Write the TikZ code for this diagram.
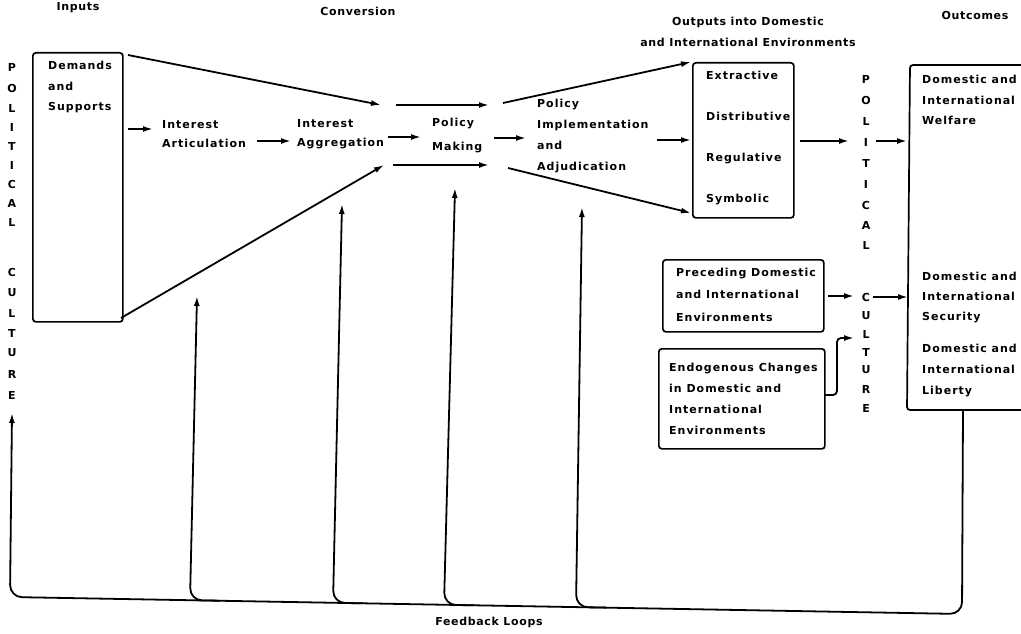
\documentclass[tikz,border=0pt]{standalone}
\usepackage{fontspec}
\newfontfamily\lf[LetterSpace=9]{DejaVu Sans}
\newfontfamily\hf[LetterSpace=6]{DejaVu Sans}
\usetikzlibrary{arrows.meta}
\newcommand\txtf[1]{\lf\bfseries\fontsize{11}{#1}\selectfont}
\tikzset{
  lbl/.style={inner sep=0pt, font=\txtf{#1}, align=left, anchor=west},
  lbl/.default=21,
  hd/.style={inner sep=0pt, font=\hf\bfseries\fontsize{11}{21}\selectfont, align=center},
  lt/.style={inner sep=0pt, font=\txtf{12}},
  box/.style={draw, rounded corners=3pt, line width=1.7pt, anchor=north west},
  ln/.style={line width=1.7pt},
  arr/.style={line width=1.8pt, -{Latex[length=10pt,width=6pt]}},
}
\begin{document}
\begin{tikzpicture}[x=1pt,y=-1pt]
\useasboundingbox (0,0) rectangle (1021,634);

% headings
\node[hd] (hin) at (78,8) {Inputs};
\node[hd] (hconv) at (358,11) {Conversion};
\node[hd] (hout) at (748,31.5) {Outputs into Domestic\\and International Environments};
\node[hd] (hoc) at (975,15) {Outcomes};

% left political culture
\foreach \c/\y [count=\i] in {P/67,O/88,L/108,I/127,T/146,I/165,C/184,A/203,L/222,C/272,U/293,L/313,T/333,U/353,R/374,E/395}
  \node[lt] (lp\i) at (12,\y) {\c};
% right political culture
\foreach \c/\y [count=\i] in {P/79,O/100,L/121,I/142,T/163,I/184,C/205,A/225,L/245,C/297,U/316,L/334,T/352,U/370,R/389,E/408}
  \node[lt] (rp\i) at (866,\y) {\c};

% demands box
\node[box, minimum width=90, minimum height=269] (dem) at (32,52) {};
\node[lbl=20.5] (demt) at (48,87) {Demands\\and\\Supports};

\node[lbl=19] (art) at (162,134) {Interest\\Articulation};
\node[lbl=19] (agg) at (297,134) {Interest\\Aggregation};
\node[lbl=24] (pm) at (432,136) {Policy\\Making};
\node[lbl=21.3] (pia) at (537,136) {Policy\\Implementation\\and\\Adjudication};

% outputs box
\node[box, minimum width=101, minimum height=155] (outb) at (692,62) {};
\node[lbl=41] (outt) at (706,138.5) {Extractive\\Distributive\\Regulative\\Symbolic};

% outcomes box (open to the right)
\coordinate (ocTR) at (1040,65);
\coordinate (ocTL) at (910,65);
\coordinate (ocBL) at (907,410);
\coordinate (ocBR) at (1040,410);
\draw[ln, rounded corners=3pt] (ocTR) -- (ocTL) -- (ocBL) -- (ocBR);
\node[lbl=20.5] (wel) at (922,100) {Domestic and\\International\\Welfare};
\node[lbl=20] (sec) at (922,298) {Domestic and\\International\\Security};
\node[lbl=21] (lib) at (922,371) {Domestic and\\International\\Liberty};

% environment boxes
\node[box, minimum width=161, minimum height=72] (pre) at (662,259) {};
\node[lbl=22.5] (pret) at (676,294.5) {Preceding Domestic\\and International\\Environments};
\node[box, minimum width=166, minimum height=100] (endo) at (658,348) {};
\node[lbl=21] (endot) at (669,399) {Endogenous Changes\\in Domestic and\\International\\Environments};

% connectors (conversion)
\coordinate (a1) at (128,55);   \coordinate (a2) at (381,105);
\coordinate (b1) at (121,318);  \coordinate (b2) at (384,165);
\coordinate (c1) at (396,105);  \coordinate (c2) at (489,105);
\coordinate (e1) at (393,165);  \coordinate (e2) at (489,165);
\coordinate (f1) at (128,129);  \coordinate (f2) at (153,129);
\coordinate (g1) at (257,141);  \coordinate (g2) at (291,141);
\coordinate (h1) at (388,137);  \coordinate (h2) at (421,137);
\coordinate (i1) at (494,138);  \coordinate (i2) at (526,138);
\coordinate (j1) at (503,103);  \coordinate (j2) at (691,62);
\coordinate (k1) at (508,168);  \coordinate (k2) at (691,213);
\coordinate (l1) at (657,140);  \coordinate (l2) at (691,140);
\draw[arr] (a1) -- (a2);
\draw[arr] (b1) -- (b2);
\draw[arr] (c1) -- (c2);
\draw[arr] (e1) -- (e2);
\draw[arr] (f1) -- (f2);
\draw[arr] (g1) -- (g2);
\draw[arr] (h1) -- (h2);
\draw[arr] (i1) -- (i2);
\draw[arr] (j1) -- (j2);
\draw[arr] (k1) -- (k2);
\draw[arr] (l1) -- (l2);

% outputs to outcomes
\coordinate (m1) at (800,141); \coordinate (m2) at (849,141);
\coordinate (n1) at (876,141); \coordinate (n2) at (907,141);
\coordinate (o1) at (828,296); \coordinate (o2) at (854,296);
\coordinate (p1) at (873,297); \coordinate (p2) at (908,297);
\draw[arr] (m1) -- (m2);
\draw[arr] (n1) -- (n2);
\draw[arr] (o1) -- (o2);
\draw[arr] (p1) -- (p2);
\coordinate (q1) at (824,395); \coordinate (q2) at (837,395);
\coordinate (q3) at (837,338); \coordinate (q4) at (854,338);
\draw[arr, rounded corners=4pt] (q1) -- (q2) -- (q3) -- (q4);

% feedback loops
\coordinate (outB) at (963,410);
\coordinate (fbR) at (962,614);
\coordinate (fbL) at (10,597);
\coordinate (fbT) at (12,413);
\draw[arr, rounded corners=12pt] (outB) -- (fbR) -- (fbL) -- (fbT);
\foreach \xb/\yb/\xt/\yt [count=\i] in {190/600.2/197/296, 333/602.8/342/204, 444/604.8/455/188, 576/607.1/582/207}{
  \coordinate (fs\i) at (\xb+30,\yb+0.5);
  \coordinate (fc\i) at (\xb,\yb);
  \coordinate (ft\i) at (\xt,\yt);
  \draw[arr, rounded corners=12pt] (fs\i) -- (fc\i) -- (ft\i);
}
\node[hd] (fbl) at (489,622) {Feedback Loops};
\end{tikzpicture}
\end{document}
